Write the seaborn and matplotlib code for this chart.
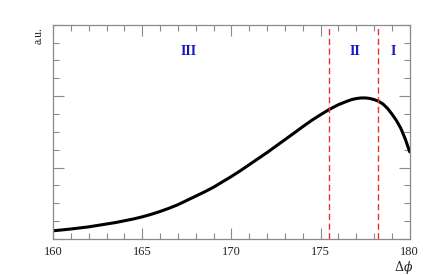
"""
Recreate the a.u. vs delta-phi curve with three regions (I, II, III).
"""

import matplotlib
matplotlib.use("Agg")
import matplotlib.pyplot as plt
from matplotlib.ticker import MultipleLocator
import pandas as pd
import seaborn as sns

# ----------------------------------------------------------------------
# Data
# ----------------------------------------------------------------------
DPHI = [160, 160.5, 161, 161.5, 162, 162.5, 163, 163.5, 164, 164.5,
        165, 165.5, 166, 166.5, 167, 167.5, 168, 168.5, 169, 169.5,
        170, 170.5, 171, 171.5, 172, 172.5, 173, 173.5, 174, 174.5,
        175, 175.5, 176, 176.5, 176.75, 177, 177.25, 177.5, 177.75, 178,
        178.25, 178.5, 178.75, 179, 179.25, 179.5, 179.75, 180]
AU = [0.115, 0.127, 0.14, 0.155, 0.17, 0.19, 0.21, 0.23, 0.255, 0.28,
      0.31, 0.345, 0.385, 0.43, 0.48, 0.54, 0.60, 0.66, 0.725, 0.80,
      0.875, 0.955, 1.04, 1.125, 1.21, 1.30, 1.39, 1.48, 1.572, 1.66,
      1.74, 1.815, 1.88, 1.93, 1.952, 1.966, 1.974, 1.975, 1.968, 1.952,
      1.928, 1.89, 1.83, 1.75, 1.66, 1.55, 1.40, 1.22]

# region boundaries and labels
BOUNDARIES = [175.5, 178.2]
REGION_LABELS = ["III", "II", "I"]
REGION_X = [167.6, 176.9, 179.1]

X_TICKS = [160, 165, 170, 175, 180]

GRAY = "#8a8a8a"


def main():
    sns.set_style("ticks")
    plt.rcParams["font.family"] = ["Liberation Serif", "DejaVu Serif"]
    plt.rcParams["mathtext.fontset"] = "dejavuserif"

    df = pd.DataFrame({"dphi": DPHI, "au": AU})

    fig = plt.figure(figsize=(4.23, 2.75), dpi=100)
    ax = fig.add_axes([0.1253, 0.1309, 0.9686 - 0.1253, 0.9102 - 0.1309])

    sns.lineplot(data=df, x="dphi", y="au", color="black", linewidth=2.2,
                 ax=ax)

    for b in BOUNDARIES:
        ax.axvline(b, color="#e8302f", linestyle=(0, (4.5, 2.5)), linewidth=1.0)

    for lab, xx in zip(REGION_LABELS, REGION_X):
        ax.text(xx, 2.62, lab, color="#1414c4", fontweight="bold",
                fontsize=10, ha="center", va="center")

    ax.set_xlim(160, 180)
    ax.set_ylim(0, 3)
    ax.set_xticks(X_TICKS)
    ax.set_xticklabels([str(t) for t in X_TICKS])
    ax.xaxis.set_minor_locator(MultipleLocator(1))
    ax.yaxis.set_major_locator(MultipleLocator(1))
    ax.yaxis.set_minor_locator(MultipleLocator(0.25))
    ax.set_yticklabels([])

    ax.tick_params(which="both", direction="in", top=True, right=True,
                   color=GRAY, width=0.8)
    ax.tick_params(which="major", length=8)
    ax.tick_params(which="minor", length=4)
    ax.tick_params(axis="x", which="major", labelsize=9, pad=5,
                   labelcolor="#222222")

    for s in ax.spines.values():
        s.set_visible(True)
        s.set_color(GRAY)
        s.set_linewidth(0.9)

    ax.set_xlabel("")
    ax.set_ylabel("")
    fig.text(0.955, 0.028, r"$\Delta\phi$", fontsize=9, ha="center",
             va="center", color="#222222")
    fig.text(0.092, 0.90, "a.u.", fontsize=8.5, rotation=90, ha="center",
             va="top", color="#222222")

    fig.savefig("out.png", dpi=100)
    plt.close(fig)


if __name__ == "__main__":
    main()
